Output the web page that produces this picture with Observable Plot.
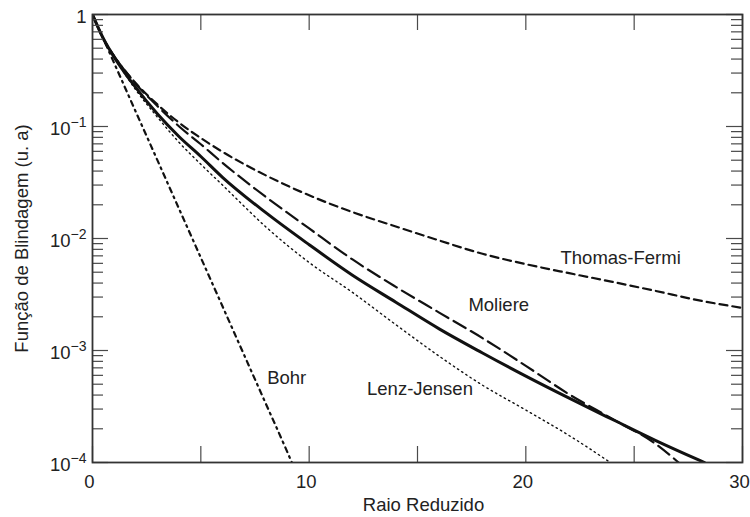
<!DOCTYPE html>
<html>
<head>
<meta charset="utf-8">
<script src="https://cdn.jsdelivr.net/npm/d3@7"></script>
<script src="https://cdn.jsdelivr.net/npm/@observablehq/plot@0.6"></script>
<style>
  body { margin: 0; background: #fff; }
  #chart svg { font-family: "Liberation Sans", Arial, Helvetica, sans-serif; }
</style>
</head>
<body>
<div id="chart"></div>
<script>
// ---- data ----
const bohrX = [0, 1, 2, 3, 4, 5, 6, 7, 8, 9, 9.2];
const bohrY = [1, 0.368, 0.135, 0.0498, 0.0183, 0.00674, 0.00248, 0.00091, 0.000335, 0.000123, 0.0001];

const thomasFermiX = [0, 0.5, 1, 1.5, 2, 3, 4, 5, 6, 8, 10, 12, 14, 16, 18, 20, 22, 24, 26, 28, 30];
const thomasFermiY = [1, 0.607, 0.424, 0.315, 0.243, 0.157, 0.108, 0.0788, 0.0594, 0.0366, 0.0243, 0.0172, 0.0128, 0.0096, 0.0073, 0.0059, 0.0049, 0.0041, 0.0034, 0.0028, 0.0024];

const moliereX = [0, 0.5, 1, 1.5, 2, 3, 4, 5, 6, 8, 10, 12, 14, 16, 18, 20, 22, 24, 26, 27.05];
const moliereY = [1, 0.61, 0.425, 0.315, 0.24, 0.152, 0.1, 0.0694, 0.0474, 0.0235, 0.0123, 0.0065, 0.0037, 0.00218, 0.00129, 0.00073, 0.000406, 0.000245, 0.000146, 0.0001];

const universalX = [0, 0.5, 1, 1.5, 2, 3, 4, 5, 6, 8, 10, 12, 14, 16, 18, 20, 22, 24, 26, 28, 28.25];
const universalY = [1, 0.61, 0.416, 0.30, 0.222, 0.129, 0.081, 0.054, 0.0352, 0.0170, 0.0088, 0.0047, 0.0027, 0.00156, 0.00095, 0.00059, 0.000375, 0.000242, 0.000157, 0.000105, 0.0001];

const lenzJensenX = [0, 0.5, 1, 1.5, 2, 3, 4, 5, 6, 8, 10, 12, 14, 16, 18, 20, 22, 23.9];
const lenzJensenY = [1, 0.605, 0.41, 0.293, 0.212, 0.121, 0.072, 0.046, 0.030, 0.0127, 0.0061, 0.0033, 0.0017, 0.00089, 0.00049, 0.000294, 0.000174, 0.0001];

const xTicks = [0, 5, 10, 15, 20, 25, 30];
const xTickLabels = [0, 10, 20, 30];
const yMajor = [0.0001, 0.001, 0.01, 0.1, 1];
const yMinor = [
  0.0002, 0.0003, 0.0004, 0.0005, 0.0006, 0.0007, 0.0008, 0.0009,
  0.002, 0.003, 0.004, 0.005, 0.006, 0.007, 0.008, 0.009,
  0.02, 0.03, 0.04, 0.05, 0.06, 0.07, 0.08, 0.09,
  0.2, 0.3, 0.4, 0.5, 0.6, 0.7, 0.8, 0.9
];
const yPowTicks = [0.0001, 0.001, 0.01, 0.1];
const yPowExp = ["\u22124", "\u22123", "\u22122", "\u22121"];

const curveLabels = ["Thomas-Fermi", "Moliere", "Lenz-Jensen", "Bohr"];
const curveLabelX = [21.6, 17.35, 12.67, 8.06];
const curveLabelY = [0.0067, 0.00252, 0.000449, 0.000562];

const xTitle = "Raio Reduzido";
const yTitle = "Função de Blindagem (u. a)";

// ---- layout ----
const W = 750, H = 517;
const mL = 92, mR = 8, mT = 14, mB = 55;
const plotW = W - mL - mR, plotH = H - mT - mB;
const rows = (xs, ys) => xs.map((x, i) => ({x, y: ys[i]}));
const ink = "#111";
const txt = "#222";
const tickCol = "#4a4a4a";
const fs = 18.5;

const chart = Plot.plot({
  width: W,
  height: H,
  marginLeft: mL,
  marginRight: mR,
  marginTop: mT,
  marginBottom: mB,
  x: {domain: [0, 30], axis: null},
  y: {type: "log", domain: [0.0001, 1], axis: null},
  style: {background: "#fff", color: txt, fontSize: fs + "px", fontFamily: "Liberation Sans, Arial, sans-serif"},
  marks: [
    // curves
    Plot.line(rows(thomasFermiX, thomasFermiY), {x: "x", y: "y", stroke: ink, strokeWidth: 2.2, strokeDasharray: "8,5", curve: "monotone-x", clip: true}),
    Plot.line(rows(moliereX, moliereY), {x: "x", y: "y", stroke: ink, strokeWidth: 2.2, strokeDasharray: "14,6", curve: "monotone-x", clip: true}),
    Plot.line(rows(lenzJensenX, lenzJensenY), {x: "x", y: "y", stroke: ink, strokeWidth: 1.4, strokeDasharray: "1.4,3.6", curve: "monotone-x", clip: true}),
    Plot.line(rows(bohrX, bohrY), {x: "x", y: "y", stroke: ink, strokeWidth: 2.2, strokeDasharray: "5,4.5,1.8,4.5", curve: "monotone-x", clip: true}),
    Plot.line(rows(universalX, universalY), {x: "x", y: "y", stroke: ink, strokeWidth: 3, curve: "monotone-x", clip: true}),

    // inward ticks, all four sides
    Plot.tickX(xTicks, {x: d => d, insetTop: plotH - 16, stroke: tickCol, strokeWidth: 1.2}),
    Plot.tickX(xTicks, {x: d => d, insetBottom: plotH - 16, stroke: tickCol, strokeWidth: 1.2}),
    Plot.tickY(yMajor, {y: d => d, insetRight: plotW - 16, stroke: tickCol, strokeWidth: 1.2}),
    Plot.tickY(yMajor, {y: d => d, insetLeft: plotW - 16, stroke: tickCol, strokeWidth: 1.2}),
    Plot.tickY(yMinor, {y: d => d, insetRight: plotW - 11, stroke: tickCol, strokeWidth: 1.2}),
    Plot.tickY(yMinor, {y: d => d, insetLeft: plotW - 11, stroke: tickCol, strokeWidth: 1.2}),
    Plot.frame({stroke: "#333", strokeWidth: 1.8}),

    // x tick labels
    Plot.text(xTickLabels, {x: d => d, frameAnchor: "bottom", text: d => String(d), textAnchor: "middle", lineAnchor: "middle", dy: 20, dx: -3, fill: txt, fontSize: fs}),
    // y tick labels
    Plot.text([1], {y: d => d, frameAnchor: "left", text: () => "1", textAnchor: "end", lineAnchor: "middle", dx: -6, dy: 3, fill: txt, fontSize: fs}),
    Plot.text(yPowTicks, {y: d => d, frameAnchor: "left", text: () => "10", textAnchor: "end", lineAnchor: "middle", dx: -22, dy: 2.5, fill: txt, fontSize: fs}),
    Plot.text(yPowTicks, {y: d => d, frameAnchor: "left", text: (d, i) => yPowExp[i], textAnchor: "end", lineAnchor: "middle", dx: -6, dy: -3.5, fill: txt, fontSize: 14}),

    // curve labels
    Plot.text(curveLabels.map((t, i) => ({t, x: curveLabelX[i], y: curveLabelY[i]})), {x: "x", y: "y", text: "t", textAnchor: "start", lineAnchor: "middle", fill: txt, fontSize: fs}),

    // axis titles
    Plot.text([xTitle], {frameAnchor: "bottom", text: d => d, textAnchor: "middle", lineAnchor: "middle", dy: 43, dx: 6, fill: txt, fontSize: fs}),
    Plot.text([yTitle], {frameAnchor: "left", text: d => d, rotate: -90, textAnchor: "middle", lineAnchor: "middle", dx: -70, fill: txt, fontSize: fs})
  ]
});

document.getElementById("chart").appendChild(chart);
</script>
</body>
</html>
